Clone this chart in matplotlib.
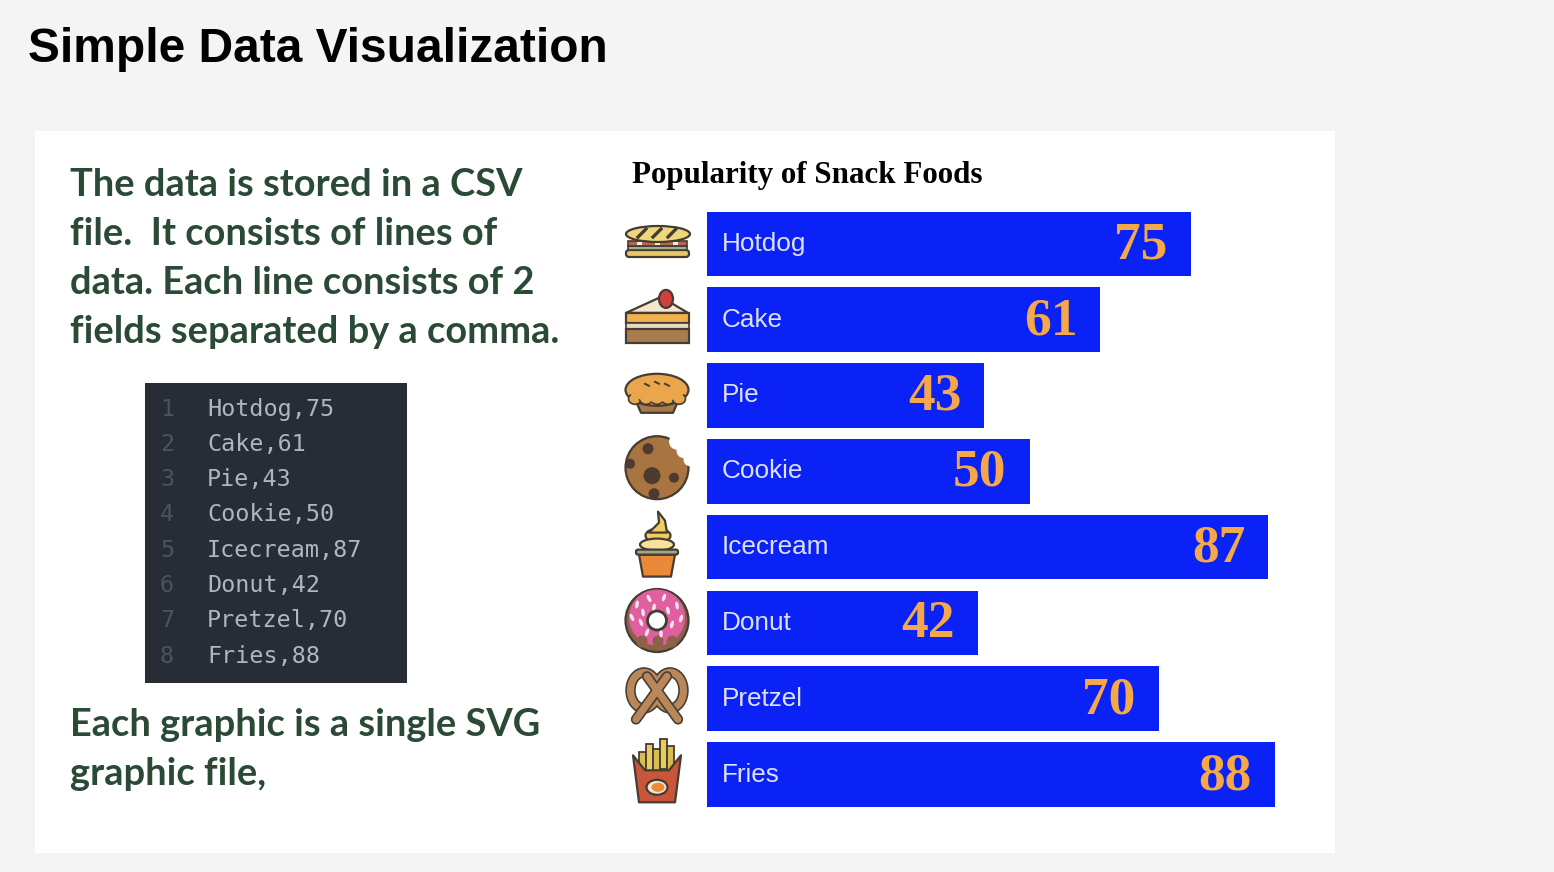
import matplotlib
matplotlib.use('Agg')
import matplotlib.pyplot as plt
from matplotlib.patches import Rectangle, Ellipse, Polygon, FancyBboxPatch, Wedge

# Data
foods = ['Hotdog', 'Cake', 'Pie', 'Cookie', 'Icecream', 'Donut', 'Pretzel', 'Fries']
popularity = [75, 61, 43, 50, 87, 42, 70, 88]

intro_lines = ['The data is stored in a CSV', 'file.  It consists of lines of',
               'data. Each line consists of 2', 'fields separated by a comma.']
outro_lines = ['Each graphic is a single SVG', 'graphic file,']

INK = '#453c33'
W, H = 1554, 872

fig = plt.figure(figsize=(W / 100, H / 100), dpi=100, facecolor='#f4f4f4')

# overlay in pixel coordinates for the slide furniture
bg = fig.add_axes([0, 0, 1, 1])
bg.set_xlim(0, W)
bg.set_ylim(H, 0)
bg.axis('off')


def rect(x, y, w, h, fc, ec=INK, lw=1.6, z=3):
    bg.add_patch(Rectangle((x, y), w, h, fc=fc, ec=ec, lw=lw, zorder=z))


def rbox(x, y, w, h, r, fc, ec=INK, lw=1.6, z=3):
    bg.add_patch(FancyBboxPatch((x + r, y + r), w - 2 * r, h - 2 * r, boxstyle='round,pad=%f' % r,
                                fc=fc, ec=ec, lw=lw, zorder=z))


def ell(x, y, w, h, fc, ec=INK, lw=1.6, z=3):
    bg.add_patch(Ellipse((x, y), w, h, fc=fc, ec=ec, lw=lw, zorder=z))


def poly(pts, fc, ec=INK, lw=1.6, z=3):
    bg.add_patch(Polygon(pts, closed=True, fc=fc, ec=ec, lw=lw, zorder=z, joinstyle='round'))


def hotdog(c, y):
    rbox(c - 31, y + 7, 63, 7, 3, '#e9c765', z=3)
    rect(c - 29, y + 3, 59, 4, '#9db38c', lw=1.2, z=4)
    rect(c - 29, y - 2, 59, 5, '#b5694a', lw=1.2, z=4)
    for dx in (-20, -2, 16):
        rect(c + dx, y - 1, 5, 3, '#f4efe0', ec='none', lw=0, z=5)
    ell(c + 1, y - 9, 64, 16, '#efd87c', z=5)
    for dx in (-14, 1, 16):
        bg.plot([c + dx - 5, c + dx + 3], [y - 6, y - 14], color=INK, lw=2.4, zorder=6)


def cake(c, y):
    poly([(c - 31, y - 6), (c + 4, y - 22), (c + 31, y - 6)], '#f3e6cc', z=3)
    rect(c - 31, y - 6, 63, 10, '#f2b14f', z=4)
    rect(c - 31, y + 4, 63, 6, '#e8dcc0', lw=1.2, z=4)
    rect(c - 31, y + 10, 63, 14, '#a97c4f', z=4)
    ell(c + 9, y - 20, 14, 18, '#d2403a', z=5)


def pie(c, y):
    poly([(c - 23, y + 2), (c + 23, y + 2), (c + 16, y + 18), (c - 16, y + 18)], '#a9794a', z=3)
    ell(c, y - 5, 63, 32, '#e9a64a', z=4)
    for dx in (-22, -11, 0, 11, 22):
        ell(c + dx, y + 4, 13, 11, '#e9a64a', ec=INK, lw=1.2, z=5)
    ell(c, y - 6, 58, 26, '#e9a64a', ec='none', lw=0, z=6)
    for dx, dy in ((-10, -11), (0, -13), (10, -11)):
        bg.plot([c + dx - 2, c + dx + 2], [y + dy, y + dy + 2], color=INK, lw=1.4, zorder=7)


def cookie(c, y):
    y = y - 3
    ell(c, y, 63, 63, '#a8743f', z=3)
    for dx, dy, s in ((20, -26, 16), (27, -17, 15), (33, -8, 13)):
        ell(c + dx, y + dy, s, s, 'white', ec='none', lw=0, z=4)
    for dx, dy, s in ((-9, -19, 11), (-27, -4, 10), (-5, 8, 17), (17, 10, 10), (-3, 26, 11)):
        ell(c + dx, y + dy, s, s, '#4e3a2e', ec='none', lw=0, z=5)


def icecream(c, y):
    poly([(c - 18, y + 8), (c + 18, y + 8), (c + 14, y + 30), (c - 14, y + 30)], '#ea8a38', z=3)
    rbox(c - 21, y + 3, 42, 5, 2, '#9fa88a', z=5)
    ell(c, y - 2, 34, 12, '#f6e29a', z=4)
    ell(c + 1, y - 11, 25, 14, '#f2cd5f', z=3)
    poly([(c - 8, y - 14), (c + 10, y - 14), (c + 8, y - 26), (c + 1, y - 35), (c + 2, y - 24)], '#f2cd5f', z=3)


def donut(c, y):
    y = y - 2
    ell(c, y, 63, 63, '#8d6146', z=3)
    bg.add_patch(Wedge((c, y - 3), 28, 0, 360, fc='#df5f9f', ec='none', zorder=4))
    for dx in (-15, 1, 15):
        ell(c + dx, y + 21, 11, 12, '#8d6146', ec='none', lw=0, z=5)
    sprinkles = [(-20, -16), (-8, -22), (7, -23), (20, -15), (24, -2), (-25, -3), (-16, 2),
                 (15, 4), (-10, 12), (4, 13), (-3, -13), (11, -10), (-14, -8)]
    for dx, dy in sprinkles:
        bg.add_patch(Ellipse((c + dx, y + dy), 3.5, 8, angle=(dx * 7) % 60 - 30, fc='#f8e6ee', ec='none', zorder=6))
    ell(c, y, 19, 19, 'white', lw=2.0, z=7)


def pretzel(c, y):
    for xy, w, h in (((c - 13, y - 8), 27, 36), ((c + 13, y - 8), 27, 36)):
        bg.add_patch(Ellipse(xy, w, h, fc='none', ec=INK, lw=7.5, zorder=3))
        bg.add_patch(Ellipse(xy, w, h, fc='none', ec='#b9875a', lw=5.2, zorder=4))
    for x0, x1 in ((c - 21, c + 10), (c + 21, c - 10)):
        bg.plot([x0, x1], [y + 21, y - 22], color=INK, lw=7.5, solid_capstyle='round', zorder=5)
        bg.plot([x0, x1], [y + 21, y - 22], color='#b9875a', lw=5.2, solid_capstyle='round', zorder=6)


def fries(c, y):
    for dx, top, col in ((-15, -22, '#d9bd4e'), (-8, -30, '#e8cd5c'), (-1, -25, '#d9bd4e'),
                         (6, -35, '#e8cd5c'), (13, -28, '#d9bd4e')):
        rect(c + dx - 3.5, y + top, 7, 30, col, lw=1.3, z=3)
    poly([(c - 24, y - 19), (c - 12, y - 4), (c + 12, y - 4), (c + 24, y - 19), (c + 18, y + 28), (c - 18, y + 28)],
         '#c9563a', z=4)
    ell(c, y + 13, 21, 15, '#f3e3cf', z=5)
    ell(c + 1, y + 13, 13, 9, '#ea8a38', ec='none', lw=0, z=6)


icons = {'Hotdog': hotdog, 'Cake': cake, 'Pie': pie, 'Cookie': cookie,
         'Icecream': icecream, 'Donut': donut, 'Pretzel': pretzel, 'Fries': fries}

# slide panel
bg.add_patch(Rectangle((35, 131), 1300, 722, fc='white', ec='none', zorder=0))

bg.text(28, 49, 'Simple Data Visualization', family='Liberation Sans', fontweight='bold',
        fontsize=34.5, color='black', va='center', ha='left')

# left column text
for i, line in enumerate(intro_lines):
    bg.text(70, 185 + i * 48.9, line, family='Lato', fontweight='bold', fontsize=27.4,
            color='#2b4a36', va='center', ha='left')
for i, line in enumerate(outro_lines):
    bg.text(70, 725 + i * 48.9, line, family='Lato', fontweight='bold', fontsize=27.4,
            color='#2b4a36', va='center', ha='left')

# code block
bg.add_patch(Rectangle((145, 383), 262, 300, fc='#282c35', ec='none', zorder=1))
for i, (name, val) in enumerate(zip(foods, popularity)):
    y = 409 + i * 35.3
    bg.text(167, y, str(i + 1), family='DejaVu Sans Mono', fontsize=16.8, color='#4d525b', va='center', ha='center')
    bg.text(207, y, '%s,%d' % (name, val), family='DejaVu Sans Mono', fontsize=16.8, color='#b0b6bf',
            va='center', ha='left')

# bar chart, 6.45 px per unit starting at x=707
ax = fig.add_axes([707 / W, 1 - 812.4 / H, 600 / W, 606.4 / H])
ax.patch.set_alpha(0)
ax.set_xlim(0, 600 / 6.45)
ax.set_ylim(len(foods) - 0.5, -0.5)
ax.axis('off')
ax.barh(range(len(foods)), popularity, height=0.85, color='#0a22f5')
for i, (name, val) in enumerate(zip(foods, popularity)):
    ax.annotate(name, (0, i), xytext=(15 * 0.72, 0), textcoords='offset points', family='Liberation Sans',
                fontsize=18.8, color='#dde1ff', va='center', ha='left')
    ax.annotate(str(val), (val, i), xytext=(-23 * 0.72, -1.5 * 0.72), textcoords='offset points',
                family='Liberation Serif', fontweight='bold', fontsize=38.5, color='#f4a84a',
                va='center', ha='right')
    icons[name](657, 243 + i * 75.9)

bg.text(632, 176, 'Popularity of Snack Foods', family='Liberation Serif', fontweight='bold', fontsize=22.3,
        color='black', va='center', ha='left')

fig.savefig('out.png', dpi=100)
